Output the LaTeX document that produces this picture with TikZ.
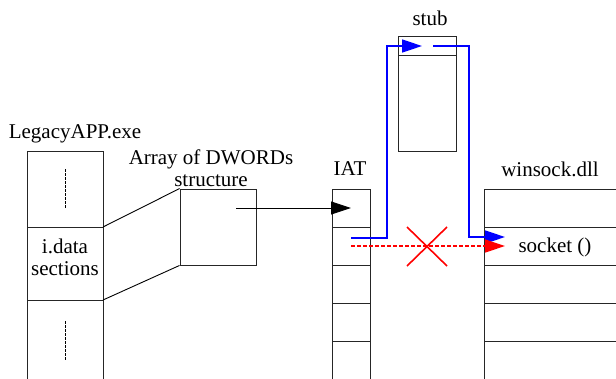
\documentclass[tikz,border=0pt]{standalone}
\usepackage{fontspec}
\setmainfont{Liberation Serif}
\newfontfamily\lbfont{Liberation Serif}
\usetikzlibrary{arrows.meta}
\begin{document}
\begin{tikzpicture}[x=1pt,y=-1pt,
  box/.style={draw=black!85,line width=0.9pt},
  lbl/.style={font=\lbfont\fontsize{21}{23}\selectfont,inner sep=0pt,align=center},
  tipblk/.style={-{Triangle[length=20pt,width=13pt]}},
  blueln/.style={draw=blue,line width=1.6pt},
  redln/.style={draw=red,line width=1.3pt}]
\useasboundingbox (0,0) rectangle (616,378);
% LegacyAPP
\draw[box] (27,380) -- (27,151) -- (103,151) -- (103,380);
\draw[box] (27,227) -- (103,227);
\draw[box] (27,300) -- (103,300);
\draw[black,line width=0.9pt,dashed,dash pattern=on 2.5pt off 1.5pt] (65,169) -- (65,209);
\draw[black,line width=0.9pt,dashed,dash pattern=on 2.5pt off 1.5pt] (65,321) -- (65,361);
\node[lbl] (legacy) at (75,134) {LegacyAPP.exe};
\node[lbl] (idata) at (65,257) {i.data\\[-1pt]sections};
% Array
\node[box,minimum width=76pt,minimum height=76pt,inner sep=0pt] (arr) at (218,227) {};
\node[lbl] (arrlbl) at (211,168) {Array of DWORDs\\[-1pt]structure};
\draw[black,line width=0.9pt] (103,227) -- (arr.north west);
\draw[black,line width=0.9pt] (103,300) -- (arr.south west);
% IAT
\draw[box] (332,380) -- (332,189) -- (370,189) -- (370,380);
\foreach \yy in {227,265,303,341} \draw[box] (332,\yy) -- (370,\yy);
\node[lbl] (iat) at (350,169) {IAT};
% winsock
\draw[box] (484,380) -- (484,189) -- (617,189);
\foreach \yy in {227,265,303,341} \draw[box] (484,\yy) -- (617,\yy);
\node[lbl] (winsock) at (550,169) {winsock.dll};
\node[lbl] (socket) at (555,247) {socket ()};
% stub
\node[box,minimum width=58pt,minimum height=115pt,inner sep=0pt,anchor=north west] (stub) at (398,36) {};
\draw[box] (398,55) -- (456,55);
\node[lbl] (stublbl) at (430,18) {stub};
% arrows
\coordinate (a1) at (236,208);
\coordinate (a2) at (351,208);
\draw[black,line width=0.9pt,tipblk] (a1) -- (a2);
\coordinate (b0) at (351,238);
\coordinate (b1) at (422,46);
\coordinate (b2) at (433,46);
\coordinate (b3) at (505,237);
\draw[blueln,tipblk,blue] (b0) -- (387,238) -- (387,46) -- (b1);
\draw[blueln,tipblk,blue] (b2) -- (469,46) -- (469,237) -- (b3);
\coordinate (r0) at (351,246);
\coordinate (r1) at (505,246);
\draw[redln,tipblk,red,dashed,dash pattern=on 4pt off 2pt] (r0) -- (r1);
\draw[redln,line width=1.6pt] (407,227) -- (447,266);
\draw[redln,line width=1.6pt] (447,227) -- (407,266);
\end{tikzpicture}
\end{document}
